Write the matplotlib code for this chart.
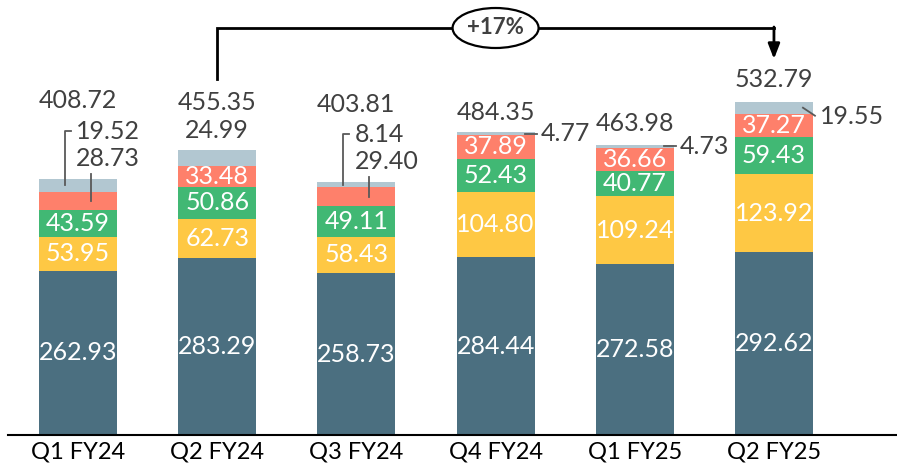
import numpy as np
import matplotlib.pyplot as plt
from matplotlib.patches import Ellipse

plt.rcParams['font.family'] = ['Lato', 'DejaVu Sans']

#%% Datos
quarters = ["Q1 FY24", "Q2 FY24", "Q3 FY24", "Q4 FY24", "Q1 FY25", "Q2 FY25"]
seg1 = [262.93, 283.29, 258.73, 284.44, 272.58, 292.62]
seg2 = [53.95, 62.73, 58.43, 104.80, 109.24, 123.92]
seg3 = [43.59, 50.86, 49.11, 52.43, 40.77, 59.43]
seg4 = [28.73, 33.48, 29.40, 37.89, 36.66, 37.27]
seg5 = [19.52, 24.99, 8.14, 4.77, 4.73, 19.55]
totals = [408.72, 455.35, 403.81, 484.35, 463.98, 532.79]
growth = "+17%"

colors = ["#4b6f80", "#fec844", "#41b874", "#fe806b", "#b2c7d1"]
txtc = "#404040"
fs = 18

fig = plt.figure(figsize=(8.97, 4.76), dpi=100)
ax = fig.add_axes([8/897, 41/476, 889/897, 435/476])
ax.set_xlim(-0.503, 5.884)
ax.set_ylim(0, 695.4)
XS = 889 / (5.884 + 0.503)   # px por unidad x
YS = 435 / 695.4             # px por unidad y

def pt(x, y, dx, dy):
    # desplaza (x, y) en pixeles (dy positivo hacia abajo)
    return (x + dx / XS, y - dy / YS)

x = np.arange(len(quarters))
w = 0.56
segs = [seg1, seg2, seg3, seg4, seg5]
bottom = np.zeros(len(x))
for s, c in zip(segs, colors):
    ax.bar(x, s, w, bottom=bottom, color=c, edgecolor='none')
    bottom += np.array(s)
tops = bottom

# etiquetas internas
inside4 = [False, True, False, True, True, True]
bot = np.zeros(len(x))
for k, s in enumerate(segs[:4]):
    for i in range(len(x)):
        if k < 3 or inside4[i]:
            ax.text(x[i], bot[i] + s[i] / 2, f"{s[i]:.2f}", color="white",
                    ha="center", va="center", fontsize=fs)
    bot += np.array(s)

lc = "#595959"
# totales (offset en px desde el tope de la barra)
tot_off = [-79, -48, -78, -20, -21, -22]
for i in range(len(x)):
    ax.text(*pt(x[i], tops[i], 0, tot_off[i]), f"{totals[i]:.2f}", color=txtc,
            ha="center", va="center", fontsize=fs)

# Q1 FY24 y Q3 FY24: etiquetas con corchete
for i in [0, 2]:
    g_mid = tops[i] - seg5[i] / 2
    r_mid = tops[i] - seg5[i] - seg4[i] / 2
    ax.text(*pt(x[i], tops[i], -2, -48), f"{seg5[i]:.2f}", color=txtc,
            ha="left", va="center", fontsize=fs)
    ax.text(*pt(x[i], tops[i], -2, -21), f"{seg4[i]:.2f}", color=txtc,
            ha="left", va="center", fontsize=fs)
    p0 = pt(x[i], g_mid, -13, 0)
    p1 = pt(x[i], tops[i], -13, -48)
    p2 = pt(x[i], tops[i], -7, -48)
    ax.plot([p0[0], p1[0], p2[0]], [p0[1], p1[1], p2[1]], color=lc, lw=1.3)
    q0 = pt(x[i], r_mid, 13, 0)
    q1 = pt(x[i], tops[i], 13, -5)
    ax.plot([q0[0], q1[0]], [q0[1], q1[1]], color=lc, lw=1.3)

# Q2 FY24: gris encima
ax.text(*pt(x[1], tops[1], 0, -20), f"{seg5[1]:.2f}", color=txtc,
        ha="center", va="center", fontsize=fs)

# Q4 FY24, Q1 FY25: a la derecha
for i in [3, 4]:
    g_mid = tops[i] - seg5[i] / 2
    a = pt(x[i], g_mid, 29, 0)
    b = pt(x[i], g_mid, 41, 0)
    ax.plot([a[0], b[0]], [a[1], b[1]], color=lc, lw=1.3)
    ax.text(*pt(x[i], g_mid, 45, 0), f"{seg5[i]:.2f}", color=txtc,
            ha="left", va="center", fontsize=fs)

# Q2 FY25: diagonal
i = 5
a = pt(x[i], tops[i], 29, 6)
b = pt(x[i], tops[i], 41, 14)
ax.plot([a[0], b[0]], [a[1], b[1]], color=lc, lw=1.3)
ax.text(*pt(x[i], tops[i], 46, 15), f"{seg5[i]:.2f}", color=txtc,
        ha="left", va="center", fontsize=fs)

# flecha de crecimiento
y_line = 695.4 - 28 / YS
y_start = 695.4 - 79 / YS
y_tip = 695.4 - 59 / YS
ax.plot([x[1], x[1], x[5]], [y_start, y_line, y_line], color="black", lw=2,
        solid_joinstyle='miter')
ax.annotate("", xy=(x[5], y_tip), xytext=(x[5], y_line + 1 / YS),
            arrowprops=dict(arrowstyle='-|>,head_length=0.9,head_width=0.35',
                            color='black', lw=2, shrinkA=0, shrinkB=0))
xm = (x[1] + x[5]) / 2
ax.add_patch(Ellipse((xm, y_line), 86 / XS, 40 / YS, facecolor='white',
                     edgecolor='black', lw=1.6, zorder=3))
ax.text(xm, y_line, growth, color=txtc, ha="center", va="center",
        fontsize=16, fontweight="bold", zorder=4)

for sp in ["top", "right", "left"]:
    ax.spines[sp].set_visible(False)
ax.spines["bottom"].set_linewidth(1.5)
ax.set_yticks([])
ax.set_xticks(x)
ax.set_xticklabels(quarters, fontsize=17, color="black")
ax.tick_params(axis='x', length=0, pad=5)

fig.savefig("out.png", dpi=100)
